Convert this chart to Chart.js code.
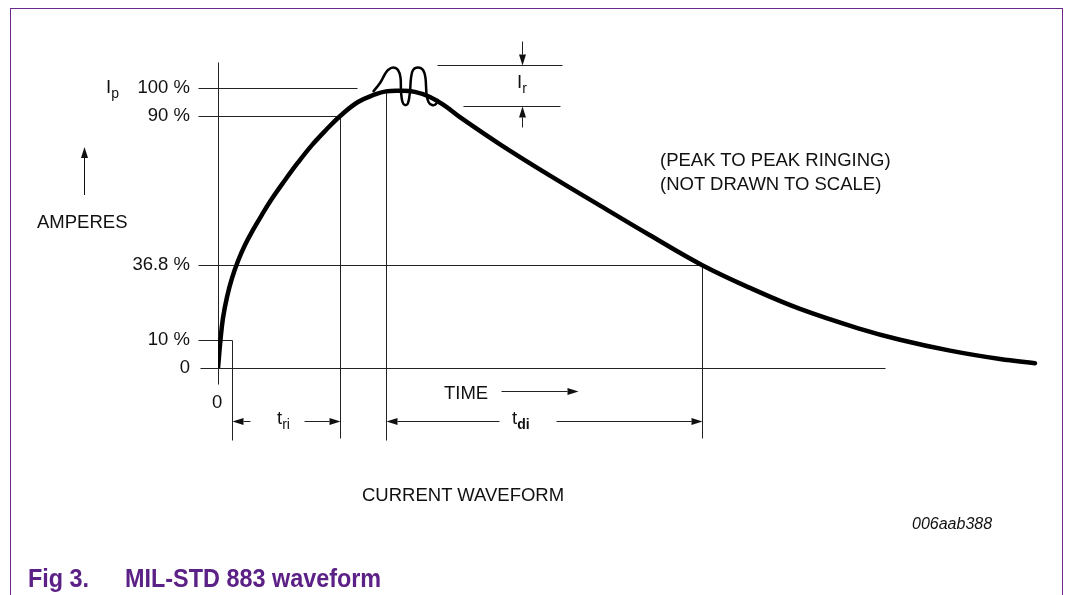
<!DOCTYPE html>
<html>
<head>
<meta charset="utf-8">
<script src="https://cdn.jsdelivr.net/npm/chart.js@4"></script>
<style>
  body { margin: 0; background: #fff; }
  #wrap { position: relative; width: 1066px; height: 595px; overflow: hidden; font-family: "Liberation Sans", Arial, sans-serif; color: #111; }
  #frame { position: absolute; left: 10px; top: 8px; width: 1051px; height: 600px; border: 1px solid #6a2a8c; border-bottom: none; }
  canvas { position: absolute; left: 0; top: 0; }
  .t { position: absolute; font-size: 18.5px; line-height: 20px; white-space: nowrap; }
  .t sub { font-size: 14px; vertical-align: -5px; line-height: 0; }
  .id { font-style: italic; font-size: 16px; }
  .cap { font-weight: bold; font-size: 26px; line-height: 30px; color: #5c2186; transform: scaleX(0.9); transform-origin: left center; }
</style>
</head>
<body>
<div id="wrap">
  <div id="frame"></div>
  <canvas id="myChart" width="1066" height="595"></canvas>
  <div class="t" style="left:106px;top:77px;">I<sub>p</sub></div>
  <div class="t" style="left:37px;top:212px;">AMPERES</div>
  <div class="t" style="left:660px;top:150px;">(PEAK TO PEAK RINGING)</div>
  <div class="t" style="left:660px;top:174px;">(NOT DRAWN TO SCALE)</div>
  <div class="t" style="left:212px;top:392px;">0</div>
  <div class="t" style="left:444px;top:383px;">TIME</div>
  <div class="t" style="left:277px;top:408px;">t<sub>ri</sub></div>
  <div class="t" style="left:512px;top:408px;">t<sub style="font-weight:bold">di</sub></div>
  <div class="t" style="left:517px;top:72px;">I<sub>r</sub></div>
  <div class="t" style="left:362px;top:485px;">CURRENT WAVEFORM</div>
  <div class="t id" style="left:912px;top:514px;">006aab388</div>
  <div class="t cap" style="left:28px;top:563px;">Fig 3.</div>
  <div class="t cap" style="left:125px;top:563px;">MIL-STD 883 waveform</div>
</div>
<script>
// waveform, time in arbitrary units (not drawn to scale), current in % of Ip
const timeValues = [0, 0.3, 0.61, 1.1, 1.71, 2.44, 3.29, 4.27, 5.37, 6.59, 8.05, 9.76, 11.46, 13.17, 14.9, 17.07, 19.15, 20.49, 22.2, 24.0, 25.85, 27.68, 29.5, 34.39, 40.49, 46.59, 52.68, 59.0, 64.88, 70.98, 78.29, 83.17, 89.27, 95.37, 99.63];
const currentValues = [0, 10, 17.9, 25.4, 32.1, 38.2, 43.9, 49.3, 54.8, 60.5, 66.6, 73.4, 79.6, 85, 90, 95, 97.7, 98.8, 99, 98.6, 96.8, 93.6, 89.6, 79.9, 68.7, 58, 47.4, 36.8, 28.6, 21.1, 14, 10.1, 6.2, 3.2, 1.7];

// ringing loops on top of the peak
const ringTime = [18.9, 19.76, 20.37, 20.73, 21.34, 21.95, 22.26, 22.32, 22.5, 22.8, 23.17, 23.41, 23.54, 23.78, 24.39, 25.0, 25.3, 25.43, 25.67, 26.1, 26.59, 26.83];
const ringValues = [98.6, 101.8, 105, 106.4, 107.3, 106.4, 103.6, 98.6, 95, 93.9, 94.6, 98.6, 103.6, 106.4, 107.3, 106.4, 103.6, 97.9, 95, 93.9, 94.3, 96.1];

const tickValues = [0, 10, 36.8, 90, 100];
const tickLabels = ["0", "10 %", "36.8 %", "90 %", "100 %"];

// marker times
const tStart10 = 1.7;
const t90 = 14.9;
const tPeak = 20.5;
const t368 = 59.0;

function arrow(ctx, x1, y1, x2, y2) {
  // line from (x1,y1) with head at (x2,y2)
  const a = Math.atan2(y2 - y1, x2 - x1);
  const len = 11, w = 3.5;
  ctx.beginPath();
  ctx.moveTo(x1, y1);
  ctx.lineTo(x2 - Math.cos(a) * len, y2 - Math.sin(a) * len);
  ctx.stroke();
  ctx.beginPath();
  ctx.moveTo(x2, y2);
  ctx.lineTo(x2 - Math.cos(a) * len - Math.sin(a) * w, y2 - Math.sin(a) * len + Math.cos(a) * w);
  ctx.lineTo(x2 - Math.cos(a) * len + Math.sin(a) * w, y2 - Math.sin(a) * len - Math.cos(a) * w);
  ctx.closePath();
  ctx.fill();
}

const guides = {
  id: "guides",
  beforeDatasetsDraw(chart) {
    const ctx = chart.ctx;
    const x = chart.scales.x;
    const y = chart.scales.y;
    const px = (v) => Math.round(x.getPixelForValue(v)) + 0.5;
    const py = (v) => Math.round(y.getPixelForValue(v)) + 0.5;
    ctx.save();
    ctx.strokeStyle = "#222";
    ctx.fillStyle = "#111";
    ctx.lineWidth = 1;
    function line(x1, y1, x2, y2) {
      ctx.beginPath();
      ctx.moveTo(x1, y1);
      ctx.lineTo(x2, y2);
      ctx.stroke();
    }
    const left = px(-2.4);
    // axes
    line(px(0), py(109.3), px(0), py(-5.7));
    line(px(-2.2), py(0), px(81.3), py(0));
    // level lines
    line(left, py(100), px(16.9), py(100));
    line(left, py(90), px(t90), py(90));
    line(left, py(36.8), px(t368), py(36.8));
    line(left, py(10), px(tStart10), py(10));
    // vertical markers
    const dimY = py(-19);
    line(px(tStart10), py(10), px(tStart10), py(-25.7));
    line(px(t90), py(90), px(t90), py(-25));
    line(px(tPeak), py(99), px(tPeak), py(-25.7));
    line(px(t368), py(36.8), px(t368), py(-25));
    // dimension arrows
    arrow(ctx, px(3.9), dimY, px(tStart10), dimY);
    arrow(ctx, px(10.5), dimY, px(t90), dimY);
    arrow(ctx, px(34.3), dimY, px(tPeak), dimY);
    arrow(ctx, px(41.2), dimY, px(t368), dimY);
    // time arrow
    arrow(ctx, px(34.5), py(-8.2), px(43.9), py(-8.2));
    // ringing height Ir
    line(px(26.7), py(108.2), px(41.9), py(108.2));
    line(px(29.9), py(93.6), px(41.7), py(93.6));
    arrow(ctx, px(37.1), py(116.8), px(37.1), py(108.2));
    arrow(ctx, px(37.1), py(86), px(37.1), py(93.6));
    ctx.restore();
    // amperes arrow
    ctx.save();
    ctx.strokeStyle = "#111";
    ctx.fillStyle = "#111";
    arrow(ctx, 84.5, 195, 84.5, 147);
    ctx.restore();
  },
};

function iniciarGrafica() {
  const ctx = document.getElementById("myChart").getContext("2d");
  new Chart(ctx, {
    type: "line",
    data: {
      datasets: [
        {
          label: "Current",
          data: timeValues.map((t, i) => ({ x: t, y: currentValues[i] })),
          borderColor: "#000",
          borderWidth: 4.5,
          pointRadius: 0,
          tension: 0.4,
          borderCapStyle: "round",
        },
        {
          label: "Ringing",
          data: ringTime.map((t, i) => ({ x: t, y: ringValues[i] })),
          borderColor: "#000",
          borderWidth: 2.5,
          pointRadius: 0,
          tension: 0.35,
        },
      ],
    },
    options: {
      responsive: false,
      animation: false,
      layout: { padding: { top: 60, right: 28, bottom: 227, left: 0 } },
      scales: {
        x: {
          type: "linear",
          min: 0,
          max: 100,
          display: false,
        },
        y: {
          type: "linear",
          min: 0,
          max: 110,
          grid: { display: false },
          border: { display: false },
          afterBuildTicks: (scale) => {
            scale.ticks = tickValues.map((v) => ({ value: v }));
          },
          afterFit: (scale) => {
            scale.width = 218;
          },
          ticks: {
            padding: 20,
            color: "#111",
            font: { family: "Liberation Sans", size: 18.5 },
            callback: (v) => tickLabels[tickValues.indexOf(v)],
          },
        },
      },
      plugins: {
        legend: { display: false },
        tooltip: { enabled: false },
        title: { display: false },
      },
    },
    plugins: [guides],
  });
}

document.addEventListener("DOMContentLoaded", iniciarGrafica);
</script>
</body>
</html>
